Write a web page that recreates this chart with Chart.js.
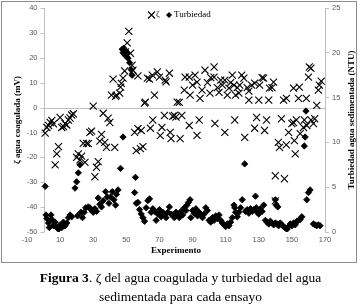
<!DOCTYPE html>
<html>
<head>
<meta charset="utf-8">
<script src="https://cdn.jsdelivr.net/npm/chart.js@4.4.1/dist/chart.umd.min.js"></script>
<style>
  body { margin: 0; background: #fff; }
  #wrap { position: relative; width: 361px; height: 308px; }
  #chart { position: absolute; left: 0; top: 0; }
  #frame { position: absolute; left: 1px; top: 1px; width: 354px; height: 260px; border: 1px solid #8c8c8c; }
  .caption { position: absolute; left: 0; top: 268px; width: 361px; text-align: center;
    font-family: "Liberation Serif", serif; font-size: 13.5px; line-height: 19px; color: #000; }
</style>
</head>
<body>
<div id="wrap">
  <canvas id="chart" width="361" height="265"></canvas>
  <div id="frame"></div>
  <div class="caption"><b>Figura 3</b>. ζ del agua coagulada y turbiedad del agua<br>sedimentada para cada ensayo</div>
</div>
<script>
// ζ del agua coagulada (mV) por experimento
const zetaExp = [1,2,3,4,5,6,7,8,9,10,11,12,13,14,15,16,17,18,
  20,21,22,23,24,25,26,27,28,29,30,31,32,33,34,35,36,37,38,39,40,43,
  41,42,43.5,44,46,46.5,47,48,49,49.5,50.5,51.5,52.5,53.5,54,57,
  55,56,57,58.5,59,60,61,61.5,62.7,64,64.5,65.7,66,67,68.7,70,70.5,71.5,73,73.5,74,76,76.5,77,78,79,80,80.7,82,82.5,83.5,85,85.5,
  88,88,88.5,90,91.5,92.7,92.7,94,94.5,95.7,97.5,99,100.5,101,103,103,103.5,105,106,107,108,109.5,109.5,111,112,113,114,115,115.5,116,117,
  118,118.5,119.7,121,121.5,123,124,124,125.7,127.5,127.5,128.7,130,130.5,132,132.9,133.5,134.7,136,136.5,138,138.9,140,140,141.8,142.5,143.7,145,145.5,146.6,146.7,
  148,150,151,151,151.5,152,152.7,154,154.5,155,157,157.5,158.7,159,160,160.5,161.5,161.5,163,163.8,165,166,166.6,167.7];
const zetaVal = [-10.3,-8,-7.2,-6,-5.2,-6.5,-23,-18.6,-15.7,-4,-8,-7.6,-6.5,-7,-5,-4.2,-3,-2.5,
  -20,-18.6,-21,-19.5,-14.4,-22,-14.4,-14.5,-10,-9.5,0.6,-27.8,-24,-21.7,-13.5,-10.8,-2.3,-14,-16,-4.3,-6,-16,
  5,11.4,4.5,5,5.8,8.2,9.7,11.8,14.7,22.4,26,30.6,21.8,17,15,12.7,
  -10,-17.3,-8.5,-16.5,-9.2,-15.7,1.8,2.2,11.8,11.4,-8.3,13,-5,5,14.3,12.2,-11.3,-8,-3.2,11,10.3,13.8,-10,-12.5,-3.5,-3.2,-3.8,2.2,2.1,-12.5,-3.2,7,12.2,
  12.2,-7.2,5,9,13,10.2,-11.2,-5,3.7,7,15,10,5.8,12,16.3,12.2,-6.4,8,6.1,11,9,11,-10,5,7.8,10,13,9,-5,5,8,
  5.8,9,13,11.8,-12,8,6.6,3,9,9.8,-8.3,-4,3,9,12,11.8,-9.2,-5,3,7.8,8,10.2,-27.4,-37.5,-14,-16,-4.5,3,-28.6,-15,3.7,
  -10,-6.4,7.8,-6,-13.3,-18.6,-5,3.7,8.2,-10.5,-8,-5,3.7,-7.2,12.2,16.3,15.8,-5,-6.4,-4.5,0.9,7,9,10.6];

// Turbiedad del agua sedimentada (NTU) por experimento
const turbExp = [1,1.5,2,3,3.5,4.5,5,6,7,8,9,10,11,12,13,14,15,16,17,19,20,21,22,20.5,22.5,23.5,24.5,25.5,27,28,29,30,31,32,33,34,35,36,37.5,38.5,39.5,40.5,41.5,42.5,43.5,45,44,46.5,48,
  47.5,48,48.5,49,49.5,50,50.5,51,52,53,53.5,
  55.5,55,56,57,58,59,60,61,62,63,64,65,66,67,68,69,70,71,72,73,74,75,76,77,78,79,80,81,82,83,84,85,86,86.7,87.5,88.5,89,90,91,92,93,94,95,96,97,98,99,
  100,101,102,103,104,105,106,107,108,109,110,111,112,113,114,115,115.5,116,117,118,119,120,121.5,122,123,124,125,126,127,128,128.5,129,130,131,132,133,134,135,136,137,138,139,
  140,140.5,141.5,140,141,142,143,144,145,146,147,148,149,150,151,152,153,154,155,156,157.5,158,158.5,159,160,161,163,164,165,166,167];
const turbVal = [5.1,1.9,1.5,1,0.5,1.9,1.4,0.7,1.1,0.5,0.3,0.8,0.5,1.1,0.7,1,1.6,1.9,1.7,4.9,5.6,6.6,7.5,1.8,2.2,1.6,2.2,2.7,2.8,2.7,2.4,2.2,2.6,2.3,3.8,3.1,2.8,3.5,4.5,3.9,3.2,3.9,4.5,3.6,3,4.7,4.2,7.1,10.6,
  20.4,20,20.5,19.8,20.2,19.6,20,19.4,18.9,18.1,17.5,
  6.1,4.4,3.2,3.3,2.5,2,1.6,1.2,2.7,3.5,3.7,2.2,2.6,2.3,1.3,2,2.5,1.7,2.2,1.9,1.6,2.2,2.8,2,1.9,1.6,2.2,1.9,1.6,2.3,1.9,2.7,2.4,3,3.3,3.6,1.6,2.4,2.1,2.6,1.8,2.2,1.9,1.6,2,2.7,2.4,
  1.3,1.1,1.6,1.3,1.8,1.5,1.9,1.3,1,0.8,0.6,0.9,0.7,1.1,1.6,3,2.7,2.2,1.7,2.2,2.7,3.6,7.6,2.3,2.5,2.1,2.6,2.3,2.5,4,2.7,2.2,2,2.6,2.3,3,1.3,1.1,0.9,1.2,1,0.8,
  3.6,3,2.8,1,0.9,0.7,1,0.8,0.6,0.45,0.3,0.6,0.9,0.7,1,0.8,1.2,1.3,1.4,1.7,9.6,10.6,13.5,3.6,4.4,4.7,0.9,0.8,0.7,0.8,0.7];

const xTicks = [-10, 10, 30, 50, 70, 90, 110, 130, 150, 170];
const zetaTicks = [-50, -40, -30, -20, -10, 0, 10, 20, 30, 40];
const turbTicks = [0, 5, 10, 15, 20, 25];

const axisGrey = "#bfbfbf";
const labelGrey = "#595959";
const tickFont = { family: "Liberation Sans", size: 7.5 };
const titleFont = { family: "Liberation Serif", size: 9, weight: "bold" };

function pairs(xs, ys) {
    return xs.map((x, i) => ({ x: x, y: ys[i] }));
}

// eje vertical en experimento 0 (como en Excel), linea de cero y leyenda dentro del area
const excelAxes = {
    id: "excelAxes",
    beforeDatasetsDraw(chart) {
        const { ctx, chartArea, scales } = chart;
        const x0 = Math.round(scales.x.getPixelForValue(0)) + 0.5;
        const y0 = Math.round(scales.y.getPixelForValue(0)) + 0.5;
        ctx.save();
        ctx.strokeStyle = axisGrey;
        ctx.lineWidth = 1;
        ctx.beginPath();
        ctx.moveTo(x0, chartArea.top);
        ctx.lineTo(x0, chartArea.bottom);
        ctx.moveTo(x0, y0);
        ctx.lineTo(chartArea.right, y0);
        scales.y.ticks.forEach(t => {
            const yy = Math.round(scales.y.getPixelForValue(t.value)) + 0.5;
            ctx.moveTo(x0 - 4, yy);
            ctx.lineTo(x0, yy);
        });
        ctx.stroke();

        ctx.font = "7.5px 'Liberation Sans'";
        ctx.fillStyle = labelGrey;
        ctx.textAlign = "right";
        ctx.textBaseline = "middle";
        scales.y.ticks.forEach(t => {
            ctx.fillText(String(t.value), x0 - 7, scales.y.getPixelForValue(t.value));
        });
        ctx.restore();
    },
    afterDraw(chart) {
        const { ctx, chartArea } = chart;
        ctx.save();
        // titulo del eje derecho, leido de abajo hacia arriba
        ctx.font = "bold 9px 'Liberation Serif'";
        ctx.fillStyle = "#000";
        ctx.textAlign = "center";
        ctx.textBaseline = "middle";
        ctx.translate(352, (chartArea.top + chartArea.bottom) / 2);
        ctx.rotate(-Math.PI / 2);
        ctx.fillText("Turbiedad agua sedimentada (NTU)", 0, 0);
        ctx.restore();

        ctx.save();
        const ly = 15;
        ctx.strokeStyle = "#000";
        ctx.fillStyle = "#000";
        ctx.lineWidth = 1.1;
        ctx.beginPath();
        ctx.moveTo(148, ly - 3.5); ctx.lineTo(155, ly + 3.5);
        ctx.moveTo(155, ly - 3.5); ctx.lineTo(148, ly + 3.5);
        ctx.stroke();
        ctx.beginPath();
        ctx.moveTo(169, ly - 3); ctx.lineTo(172, ly); ctx.lineTo(169, ly + 3); ctx.lineTo(166, ly);
        ctx.closePath();
        ctx.fill();
        ctx.font = "9px 'Liberation Serif'";
        ctx.textBaseline = "middle";
        ctx.textAlign = "left";
        ctx.fillText("ζ", 156, ly);
        ctx.fillText("Turbiedad", 174, ly);
        ctx.restore();
    }
};

const ctx = document.getElementById("chart").getContext("2d");
const myChart = new Chart(ctx, {
    type: "scatter",
    data: {
        datasets: [{
            label: "ζ",
            data: pairs(zetaExp, zetaVal),
            yAxisID: "y",
            pointStyle: "crossRot",
            pointRadius: 5,
            borderColor: "#000",
            backgroundColor: "#000",
            borderWidth: 1.1
        }, {
            label: "Turbiedad",
            data: pairs(turbExp, turbVal),
            yAxisID: "y1",
            pointStyle: "rectRot",
            pointRadius: 3.2,
            borderColor: "#000",
            backgroundColor: "#000",
            borderWidth: 0.8
        }]
    },
    options: {
        responsive: false,
        animation: false,
        devicePixelRatio: 1,
        layout: { padding: { top: 8, left: 0, right: 0, bottom: 0 } },
        plugins: {
            legend: { display: false },
            tooltip: { enabled: false }
        },
        scales: {
            x: {
                type: "linear",
                min: -10,
                max: 170,
                afterBuildTicks: axis => { axis.ticks = xTicks.map(v => ({ value: v })); },
                afterFit: axis => { axis.height = 33; },
                grid: { display: false, drawTicks: false },
                border: { display: false },
                ticks: { font: tickFont, color: labelGrey, padding: 3, maxRotation: 0, autoSkip: false },
                title: { display: true, text: "Experimento", font: titleFont, color: "#000", padding: { top: 0, bottom: 9 } }
            },
            y: {
                position: "left",
                min: -50,
                max: 40,
                afterBuildTicks: axis => { axis.ticks = zetaTicks.map(v => ({ value: v })); },
                afterFit: axis => { axis.width = 27; },
                grid: { display: false, drawTicks: false },
                border: { display: false },
                ticks: { display: false },
                title: { display: true, text: "ζ agua coagulada (mV)", font: titleFont, color: "#000", padding: { top: 12, bottom: 0 } }
            },
            y1: {
                position: "right",
                min: 0,
                max: 25,
                afterBuildTicks: axis => { axis.ticks = turbTicks.map(v => ({ value: v })); },
                afterFit: axis => { axis.width = 36; },
                grid: { display: true, drawOnChartArea: false, drawTicks: true, tickLength: 4, color: axisGrey },
                border: { display: true, color: axisGrey },
                ticks: { font: tickFont, color: labelGrey, padding: 3 }
            }
        }
    },
    plugins: [excelAxes]
});
</script>
</body>
</html>
